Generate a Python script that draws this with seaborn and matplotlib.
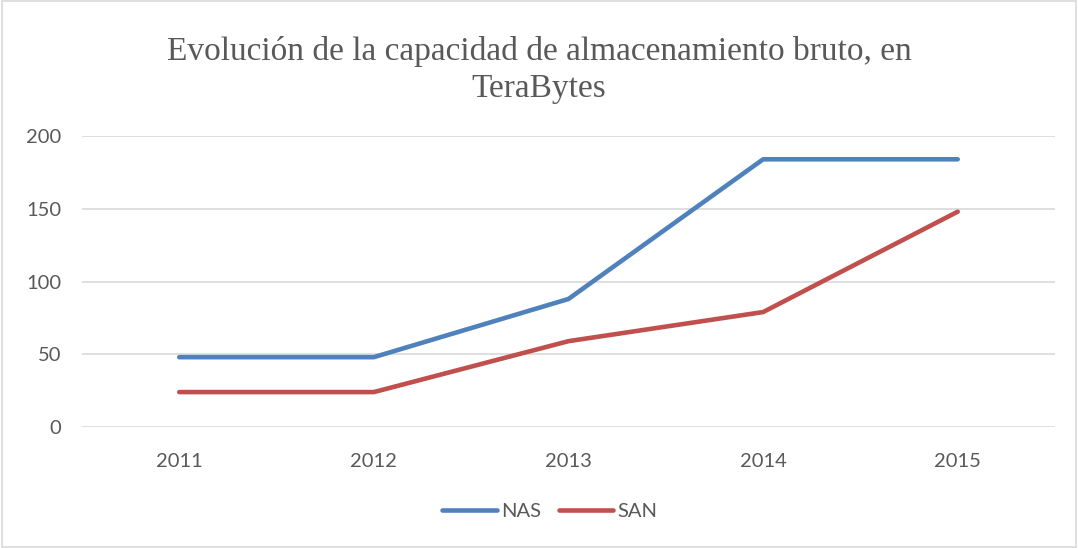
import matplotlib
matplotlib.use('Agg')
import matplotlib.pyplot as plt
import pandas as pd
import seaborn as sns
from matplotlib.patches import Rectangle

# ── Data ──────────────────────────────────────────────────────────────────────
years = ['2011', '2012', '2013', '2014', '2015']
nas   = [48, 48, 88, 184, 184]
san   = [24, 24, 59, 79, 148]

TITLE  = 'Evolución de la capacidad de almacenamiento bruto, en\nTeraBytes'
COLORS = {'NAS': '#4F81BD', 'SAN': '#C0504D'}
GRAY   = '#595959'

df = pd.DataFrame({
    'year':   years * 2,
    'value':  nas + san,
    'series': ['NAS'] * len(years) + ['SAN'] * len(years),
})

sns.set_style('white')
plt.rcParams['font.family'] = ['Lato', 'DejaVu Sans']

fig = plt.figure(figsize=(10.78, 5.48), dpi=100)
ax = fig.add_axes([0.076, 0.2208, 0.9027, 0.531])

sns.lineplot(data=df, x='year', y='value', hue='series', palette=COLORS,
             linewidth=3.3, ax=ax, legend=False,
             solid_capstyle='round', solid_joinstyle='round')

ax.set_xlim(-0.5, len(years) - 0.5)
ax.set_ylim(0, 200)
ax.set_yticks([0, 50, 100, 150, 200])
ax.grid(axis='y', color='#D9D9D9', linewidth=1.2)
ax.set_axisbelow(True)
for s in ax.spines.values():
    s.set_visible(False)
ax.tick_params(length=0, labelsize=14.5, colors=GRAY)
ax.tick_params(axis='x', pad=19)
ax.tick_params(axis='y', pad=15)
ax.set_xlabel('')
ax.set_ylabel('')

fig.text(0.5, 0.872, TITLE, ha='center', va='center', fontsize=24,
         color=GRAY, family=['Liberation Serif', 'DejaVu Serif'],
         linespacing=1.28)

# legend
handles = [plt.Line2D([], [], color=COLORS[k], linewidth=3.3,
                      solid_capstyle='round') for k in ['NAS', 'SAN']]
fig.legend(handles, ['NAS', 'SAN'], loc='center', bbox_to_anchor=(0.51, 0.067),
           ncol=2, frameon=False, fontsize=14.5, labelcolor=GRAY,
           handlelength=2.7, handletextpad=0.2, columnspacing=0.9)

# chart-area border
fig.add_artist(Rectangle((0.002, 0.002), 0.996, 0.996, transform=fig.transFigure,
                         fill=False, edgecolor='#D9D9D9', linewidth=1.2))

fig.savefig('out.png', dpi=100)
